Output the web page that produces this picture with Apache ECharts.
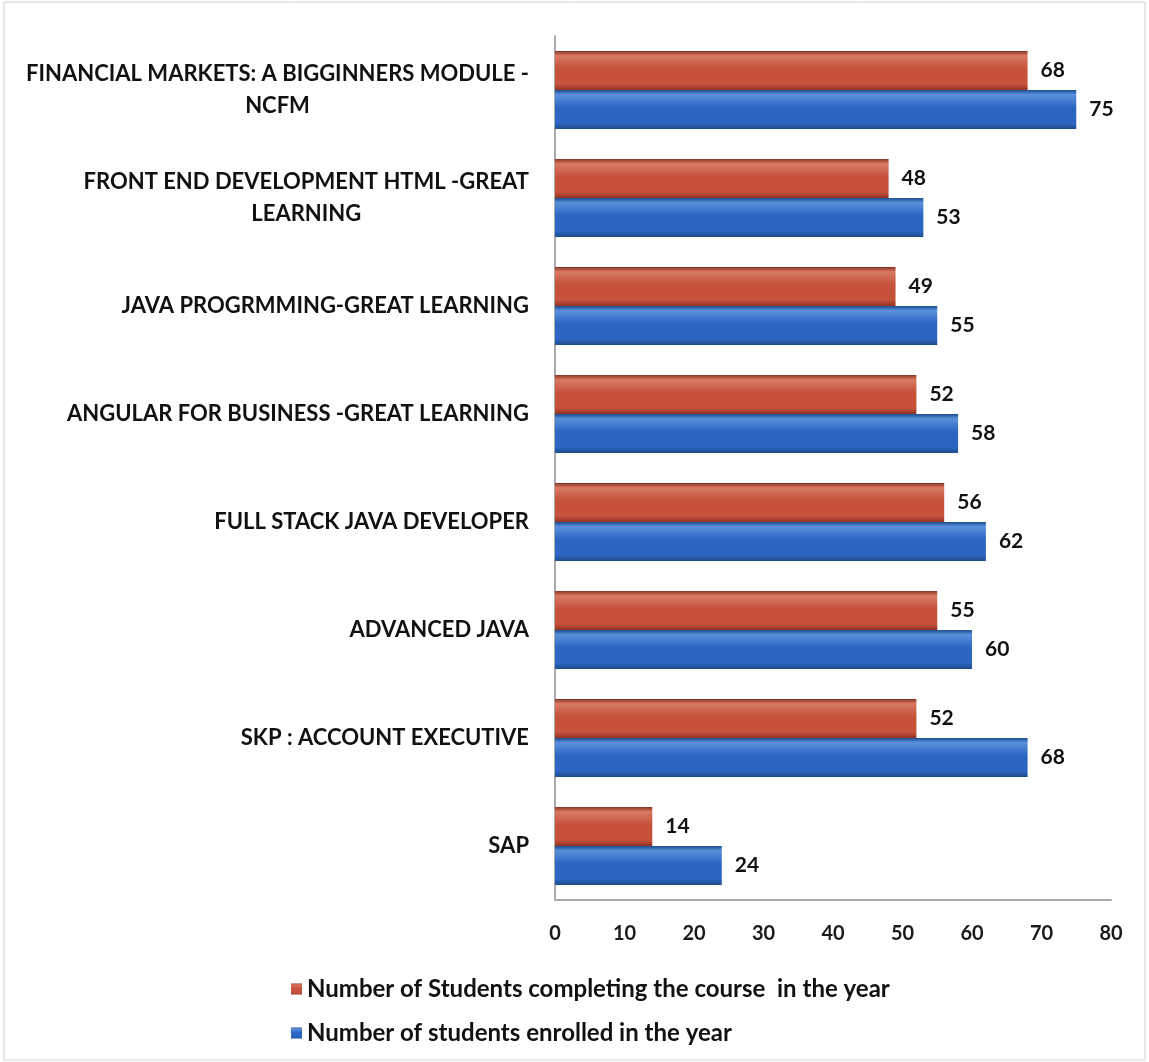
<!DOCTYPE html>
<html><head><meta charset="utf-8">
<script src="https://cdn.jsdelivr.net/npm/echarts@6/dist/echarts.min.js"></script>
<style>html,body{margin:0;padding:0;background:#fff}#c{width:1149px;height:1062px}</style>
</head><body><div id="c"></div>
<script>
const categories = [
  "FINANCIAL MARKETS: A BIGGINNERS MODULE -\nNCFM",
  "FRONT END DEVELOPMENT HTML -GREAT\nLEARNING",
  "JAVA PROGRMMING-GREAT LEARNING",
  "ANGULAR FOR BUSINESS -GREAT LEARNING",
  "FULL STACK JAVA DEVELOPER",
  "ADVANCED JAVA",
  "SKP : ACCOUNT EXECUTIVE",
  "SAP"
];
const completing = [68, 48, 49, 52, 56, 55, 52, 14];
const enrolled = [75, 53, 55, 58, 62, 60, 68, 24];
const seriesNames = ["Number of Students completing the course  in the year", "Number of students enrolled in the year"];

const FONT = 'Lato';
function grad(dark, mid, light) {
  return new echarts.graphic.LinearGradient(0, 0, 0, 1, [
    {offset: 0, color: dark}, {offset: 0.12, color: light}, {offset: 0.45, color: mid},
    {offset: 0.85, color: mid}, {offset: 1, color: dark}
  ]);
}
const chart = echarts.init(document.getElementById('c'));
chart.setOption({
  backgroundColor: '#fff',
  animation: false,
  textStyle: {fontFamily: FONT},
  grid: {left: 555, right: 38, top: 36, bottom: 162},
  legend: {
    orient: 'vertical', left: 286, top: 972, itemGap: 20,
    icon: 'rect', itemWidth: 11, itemHeight: 11,
    textStyle: {fontFamily: FONT, fontWeight: 'bold', fontSize: 24, color: '#111'},
    data: seriesNames
  },
  xAxis: {
    type: 'value', min: 0, max: 80, interval: 10,
    axisLine: {show: true, lineStyle: {color: '#aaa', width: 2}},
    axisTick: {show: false}, splitLine: {show: false},
    axisLabel: {fontFamily: FONT, fontWeight: 'bold', fontSize: 20, color: '#1a1a1a', margin: 24}
  },
  yAxis: {
    type: 'category', inverse: true, data: categories,
    axisLine: {show: true, lineStyle: {color: '#aaa', width: 2}},
    axisTick: {show: false},
    axisLabel: {
      margin: 26, color: '#111', lineHeight: 32,
      formatter: function (v) { return v.split('\n').map(l => '{c|' + l + '}').join('\n'); },
      rich: {c: {align: 'center', fontFamily: FONT, fontWeight: 'bold', fontSize: 22, color: '#111', lineHeight: 32}}
    }
  },
  series: [
    {
      name: seriesNames[0], type: 'bar', data: completing, barGap: '0%', barCategoryGap: '28%',
      itemStyle: {color: grad('#8e3322', '#c6523b', '#d97a63')},
      label: {show: true, position: 'right', distance: 13, fontFamily: FONT, fontWeight: 'bold', fontSize: 21, color: '#111'}
    },
    {
      name: seriesNames[1], type: 'bar', data: enrolled,
      itemStyle: {color: grad('#1d4d91', '#2c66c2', '#5a90dc')},
      label: {show: true, position: 'right', distance: 13, fontFamily: FONT, fontWeight: 'bold', fontSize: 21, color: '#111'}
    }
  ],
  graphic: [{type: 'rect', shape: {x: 4, y: 2, width: 1141, height: 1058}, style: {fill: 'none', stroke: '#d0d0d0', lineWidth: 1}, silent: true}]
});
</script></body></html>
